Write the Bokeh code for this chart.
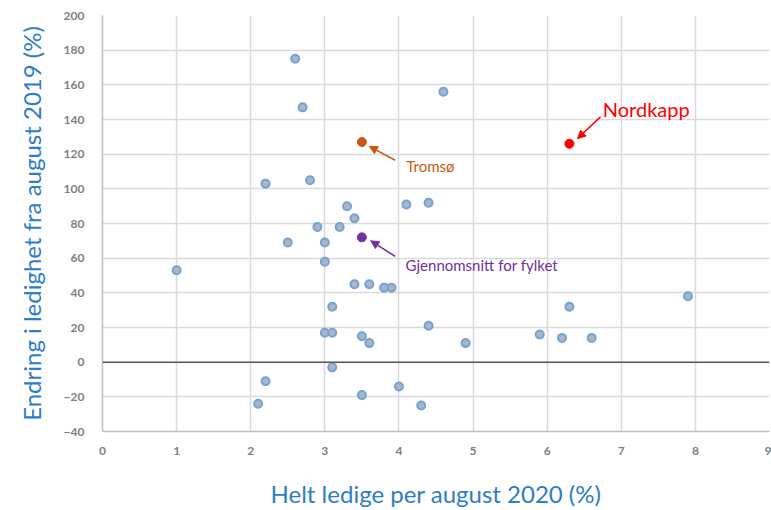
from bokeh.plotting import figure
from bokeh.models import Arrow, NormalHead, Label, Span, FixedTicker, Range1d
from bokeh.embed import file_html
from bokeh.resources import INLINE

# Data: helt ledige (%) aug 2020 vs endring i ledighet (%) fra aug 2019
x_vals = [1.0, 2.6, 2.7, 4.6, 2.2, 2.8, 3.3, 3.4, 4.1, 4.4, 2.9, 3.2, 2.5, 3.0, 3.0,
          3.4, 3.6, 3.8, 3.9, 3.1, 3.0, 3.1, 3.5, 3.6, 4.4, 4.9, 3.1, 2.2, 2.1, 3.5,
          4.0, 4.3, 5.9, 6.2, 6.3, 6.6, 7.9]
y_vals = [53, 175, 147, 156, 103, 105, 90, 83, 91, 92, 78, 78, 69, 69, 58,
          45, 45, 43, 43, 32, 17, 17, 15, 11, 21, 11, -3, -11, -24, -19,
          -14, -25, 16, 14, 32, 14, 38]

special_names = ["Tromsø", "Gjennomsnitt for fylket", "Nordkapp"]
special_x = [3.5, 3.5, 6.3]
special_y = [127, 72, 126]
special_colors = ["#C55A11", "#7030A0", "#FF0000"]

x_ticks = [0, 1, 2, 3, 4, 5, 6, 7, 8, 9]
y_ticks = [-40, -20, 0, 20, 40, 60, 80, 100, 120, 140, 160, 180, 200]

FONT = "Lato"

p = figure(width=771, height=510, output_backend="svg", toolbar_location=None,
           x_range=Range1d(0, 9), y_range=Range1d(-40, 200),
           min_border_left=102, min_border_right=2, min_border_top=15, min_border_bottom=77)
p.outline_line_color = None

for ax in (p.xaxis[0], p.yaxis[0]):
    ax.axis_line_color = "#BFBFBF"
    ax.axis_line_width = 1.5
    ax.major_tick_line_color = None
    ax.minor_tick_line_color = None
    ax.major_label_text_font = FONT
    ax.major_label_text_font_size = "12px"
    ax.major_label_text_font_style = "bold"
    ax.major_label_text_color = "#7F7F7F"
    ax.axis_label_text_font = FONT
    ax.axis_label_text_font_size = "24px"
    ax.axis_label_text_font_style = "normal"
    ax.axis_label_text_color = "#2E7DC6"

p.xaxis.ticker = FixedTicker(ticks=x_ticks)
p.yaxis.ticker = FixedTicker(ticks=y_ticks)
p.xaxis.axis_label = "Helt ledige per august 2020 (%)"
p.yaxis.axis_label = "Endring i ledighet fra august 2019 (%)"
p.xaxis.major_label_standoff = 9
p.yaxis.major_label_standoff = 12
p.xaxis.axis_label_standoff = 21
p.yaxis.axis_label_standoff = 15

p.xgrid.ticker = FixedTicker(ticks=x_ticks)
p.ygrid.ticker = FixedTicker(ticks=y_ticks)
p.grid.grid_line_color = "#D9D9D9"
p.grid.grid_line_width = 1.5

p.add_layout(Span(location=0, dimension="width", line_color="#595959", line_width=1.5))

p.scatter(x_vals, y_vals, size=8, fill_color="#ADB6C0", line_color="#72A2D8", line_width=2)

for n, xv, yv, c in zip(special_names, special_x, special_y, special_colors):
    p.scatter([xv], [yv], size=9, fill_color=c, line_color=c)

# Annotations (arrows + labels)
p.add_layout(Arrow(end=NormalHead(size=8, fill_color="#C55A11", line_color="#C55A11"),
                   x_start=3.95, y_start=116.5, x_end=3.6, y_end=124.5,
                   line_color="#C55A11", line_width=1.5))
p.add_layout(Label(x=4.1, y=113, text="Tromsø", text_font=FONT, text_font_size="15px",
                   text_color="#C55A11", text_baseline="middle"))

p.add_layout(Arrow(end=NormalHead(size=8, fill_color="#7030A0", line_color="#7030A0"),
                   x_start=3.95, y_start=61, x_end=3.62, y_end=70,
                   line_color="#7030A0", line_width=1.5))
p.add_layout(Label(x=4.09, y=56, text="Gjennomsnitt for fylket", text_font=FONT,
                   text_font_size="15px", text_color="#7030A0", text_baseline="middle"))

p.add_layout(Arrow(end=NormalHead(size=8, fill_color="#FF0000", line_color="#FF0000"),
                   x_start=6.72, y_start=141.5, x_end=6.41, y_end=129,
                   line_color="#FF0000", line_width=1.5))
p.add_layout(Label(x=6.75, y=146, text="Nordkapp", text_font=FONT, text_font_size="20px",
                   text_color="#FF0000", text_baseline="middle"))

open("out.html", "w").write(file_html(p, INLINE))
